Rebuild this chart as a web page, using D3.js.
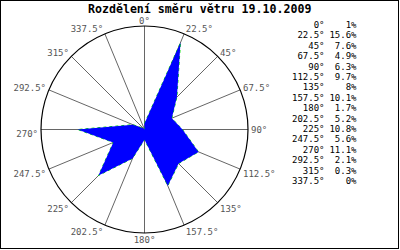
<!DOCTYPE html>
<html>
<head>
<meta charset="utf-8">
<script src="https://cdn.jsdelivr.net/npm/d3@7/dist/d3.min.js"></script>
<style>
  body { margin: 0; background: #fff; }
  text { font-family: "DejaVu Sans Mono", monospace; }
</style>
</head>
<body>
<svg id="rose" width="400" height="250"></svg>
<script>
const title = "Rozdělení směru větru 19.10.2009";
const directions = [0, 22.5, 45, 67.5, 90, 112.5, 135, 157.5, 180, 202.5, 225, 247.5, 270, 292.5, 315, 337.5];
const percents = [1, 15.6, 7.6, 4.9, 6.3, 9.7, 8, 10.1, 1.7, 5.2, 10.8, 5.6, 11.1, 2.1, 0.3, 0];

const svg = d3.select('#rose');
const cx = 144.5, cy = 129.5, R = 103.5;

svg.append("rect")
    .attr("x", 0.5).attr("y", 0.5)
    .attr("width", 398).attr("height", 248)
    .attr("fill", "#fff").attr("stroke", "#000");

svg.append("text")
    .attr("x", 88).attr("y", 13)
    .attr("font-size", "11.6px")
    .attr("font-weight", "bold")
    .text(title);

const g = svg.append("g").attr("transform", `translate(${cx},${cy})`);

const r = d3.scaleLinear().domain([0, d3.max(percents) * 1.1]).range([0, R]);
const ang = d => d * Math.PI / 180;

// spokes
g.selectAll(".spoke")
    .data(directions)
    .enter().append("line")
    .attr("class", "spoke")
    .attr("x1", 0).attr("y1", 0)
    .attr("x2", d => R * Math.sin(ang(d)))
    .attr("y2", d => -R * Math.cos(ang(d)))
    .attr("stroke", "#666")
    .attr("stroke-width", 1);

g.append("circle")
    .attr("r", R)
    .attr("fill", "none")
    .attr("stroke", "#000")
    .attr("stroke-width", 1.2);

// labels round the circle
g.selectAll(".lbl")
    .data(directions)
    .enter().append("text")
    .attr("class", "lbl")
    .attr("font-size", "9px")
    .attr("fill", "#555")
    .attr("x", d => {
        const s = Math.sin(ang(d));
        return (R + 2) * s + (s > 0.01 ? 1 : s < -0.01 ? -1 : 0);
    })
    .attr("y", d => {
        const c = Math.cos(ang(d));
        const y = -R * c;
        return c >= 0 ? y - 5 * c + 3 : y + 4 + 3 * (-c) + 3;
    })
    .attr("text-anchor", d => {
        const s = Math.sin(ang(d));
        return s > 0.01 ? "start" : s < -0.01 ? "end" : "middle";
    })
    .text(d => d + "°");

// wind polygon
const line = d3.lineRadial()
    .angle((d, i) => ang(directions[i]))
    .radius(d => r(d))
    .curve(d3.curveLinearClosed);

g.append("path")
    .attr("d", line(percents))
    .attr("fill", "none")
    .attr("stroke", "#00e000")
    .attr("stroke-width", 1)
    .attr("stroke-dasharray", "3,3");

g.append("path")
    .attr("d", line(percents))
    .attr("fill", "#0000ff")
    .attr("stroke", "none");

// legend
const leg = svg.append("g");
leg.selectAll(".ldir")
    .data(directions)
    .enter().append("text")
    .attr("font-size", "9px")
    .attr("text-anchor", "end")
    .attr("x", 324.5)
    .attr("y", (d, i) => 28 + i * 10.4)
    .text(d => d + "°");
leg.selectAll(".lval")
    .data(percents)
    .enter().append("text")
    .attr("font-size", "9px")
    .attr("text-anchor", "end")
    .attr("x", 356.5)
    .attr("y", (d, i) => 28 + i * 10.4)
    .text(d => d + "%");
</script>
</body>
</html>
